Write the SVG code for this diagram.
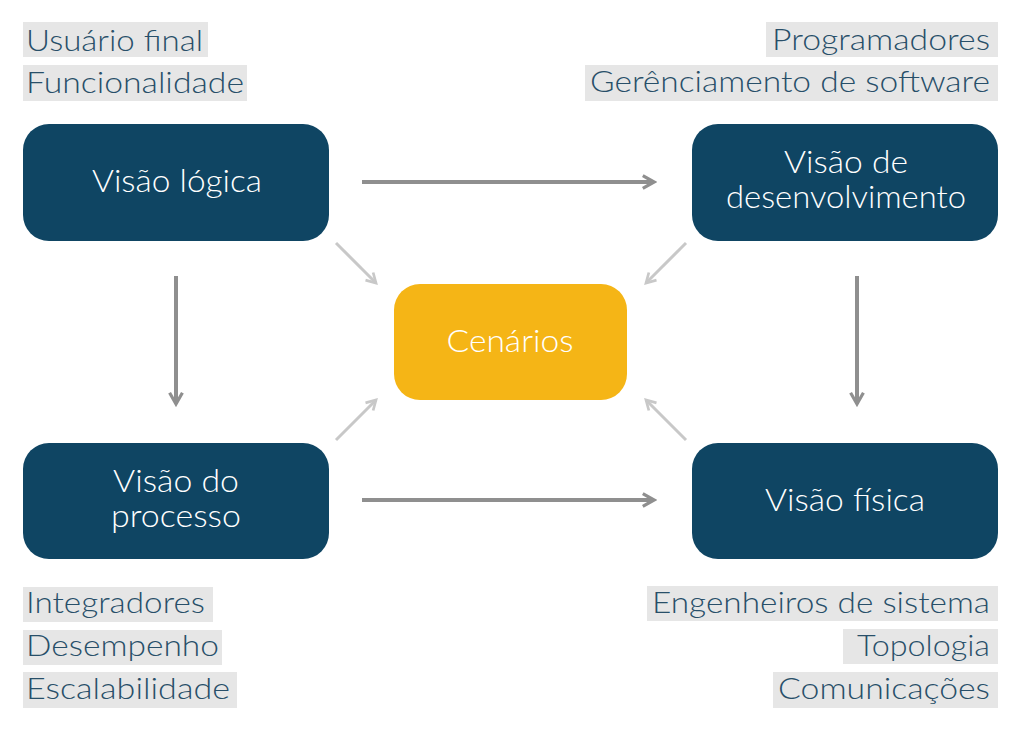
<svg xmlns="http://www.w3.org/2000/svg" width="1024" height="729" viewBox="0 0 1024 729">
<defs>
<style>
.node{fill:#0f4563}
.center{fill:#f5b516}
.nt{fill:#ffffff;font-family:Lato,"Open Sans",sans-serif;font-weight:300;font-size:31px;text-anchor:middle}
.hl{fill:#e6e6e6}
.lt{fill:#284f69;font-family:Lato,"Open Sans",sans-serif;font-weight:300;font-size:30px}
.ar{stroke:#8f8f8f;stroke-width:4;fill:none}
.dg{stroke:#c8c8c8;stroke-width:3;fill:none}
</style>
<marker id="ah" viewBox="0 0 10 10" refX="8" refY="5" markerWidth="4" markerHeight="4" orient="auto" markerUnits="strokeWidth">
<path d="M1,1 L8,5 L1,9" fill="none" stroke="#8f8f8f" stroke-width="2"/>
</marker>
<marker id="ah2" viewBox="0 0 10 10" refX="8" refY="5" markerWidth="4.5" markerHeight="4.5" orient="auto" markerUnits="strokeWidth">
<path d="M1,1 L8,5 L1,9" fill="none" stroke="#c8c8c8" stroke-width="2"/>
</marker>
</defs>
<rect width="1024" height="729" fill="#ffffff"/>
<g id="labels-top-left">
<rect class="hl" x="23" y="22" width="185" height="35"/>
<text class="lt" x="26" y="51" textLength="177" lengthAdjust="spacingAndGlyphs">Usuário final</text>
<rect class="hl" x="23" y="65" width="224" height="36"/>
<text class="lt" x="26" y="93" textLength="218" lengthAdjust="spacingAndGlyphs">Funcionalidade</text>
</g>
<g id="labels-top-right">
<rect class="hl" x="766" y="22" width="232" height="35"/>
<text class="lt" x="990" y="50" text-anchor="end" textLength="218" lengthAdjust="spacingAndGlyphs">Programadores</text>
<rect class="hl" x="585" y="65" width="413" height="36"/>
<text class="lt" x="990" y="92" text-anchor="end" textLength="400" lengthAdjust="spacingAndGlyphs">Gerênciamento de software</text>
</g>
<g id="labels-bottom-left">
<rect class="hl" x="23" y="587" width="190" height="35"/>
<text class="lt" x="26" y="613" textLength="179" lengthAdjust="spacingAndGlyphs">Integradores</text>
<rect class="hl" x="23" y="630" width="199" height="35"/>
<text class="lt" x="26" y="656" textLength="193" lengthAdjust="spacingAndGlyphs">Desempenho</text>
<rect class="hl" x="23" y="672" width="214" height="36"/>
<text class="lt" x="26" y="699" textLength="204" lengthAdjust="spacingAndGlyphs">Escalabilidade</text>
</g>
<g id="labels-bottom-right">
<rect class="hl" x="647" y="586" width="351" height="35"/>
<text class="lt" x="990" y="613" text-anchor="end" textLength="338" lengthAdjust="spacingAndGlyphs">Engenheiros de sistema</text>
<rect class="hl" x="843" y="629" width="155" height="35"/>
<text class="lt" x="990" y="656" text-anchor="end" textLength="133" lengthAdjust="spacingAndGlyphs">Topologia</text>
<rect class="hl" x="773" y="672" width="225" height="36"/>
<text class="lt" x="990" y="699" text-anchor="end" textLength="212" lengthAdjust="spacingAndGlyphs">Comunicações</text>
</g>
<g id="connectors">
<line class="ar" x1="362" y1="182" x2="654" y2="182" marker-end="url(#ah)"/>
<line class="ar" x1="362" y1="500" x2="654" y2="500" marker-end="url(#ah)"/>
<line class="ar" x1="176" y1="276" x2="176" y2="404" marker-end="url(#ah)"/>
<line class="ar" x1="857" y1="276" x2="857" y2="404" marker-end="url(#ah)"/>
<line class="dg" x1="336" y1="243" x2="376" y2="283" marker-end="url(#ah2)"/>
<line class="dg" x1="686" y1="243" x2="646" y2="283" marker-end="url(#ah2)"/>
<line class="dg" x1="336" y1="440" x2="376" y2="400" marker-end="url(#ah2)"/>
<line class="dg" x1="686" y1="440" x2="646" y2="400" marker-end="url(#ah2)"/>
</g>
<g id="node-logica">
<rect class="node" x="23" y="124" width="306" height="117" rx="26"/>
<text class="nt" x="177" y="192" textLength="170" lengthAdjust="spacingAndGlyphs">Visão lógica</text>
</g>
<g id="node-desenvolvimento">
<rect class="node" x="692" y="124" width="306" height="117" rx="26"/>
<text class="nt" x="846" y="173" textLength="124" lengthAdjust="spacingAndGlyphs">Visão de</text>
<text class="nt" x="846" y="208" textLength="240" lengthAdjust="spacingAndGlyphs">desenvolvimento</text>
</g>
<g id="node-processo">
<rect class="node" x="23" y="443" width="306" height="116" rx="26"/>
<text class="nt" x="176" y="492" textLength="126" lengthAdjust="spacingAndGlyphs">Visão do</text>
<text class="nt" x="176" y="527" textLength="130" lengthAdjust="spacingAndGlyphs">processo</text>
</g>
<g id="node-fisica">
<rect class="node" x="692" y="443" width="306" height="116" rx="26"/>
<text class="nt" x="845" y="511" textLength="160" lengthAdjust="spacingAndGlyphs">Visão física</text>
</g>
<g id="node-cenarios">
<rect class="center" x="394" y="284" width="233" height="116" rx="26"/>
<text class="nt" x="510" y="352" textLength="127" lengthAdjust="spacingAndGlyphs">Cenários</text>
</g>
</svg>
